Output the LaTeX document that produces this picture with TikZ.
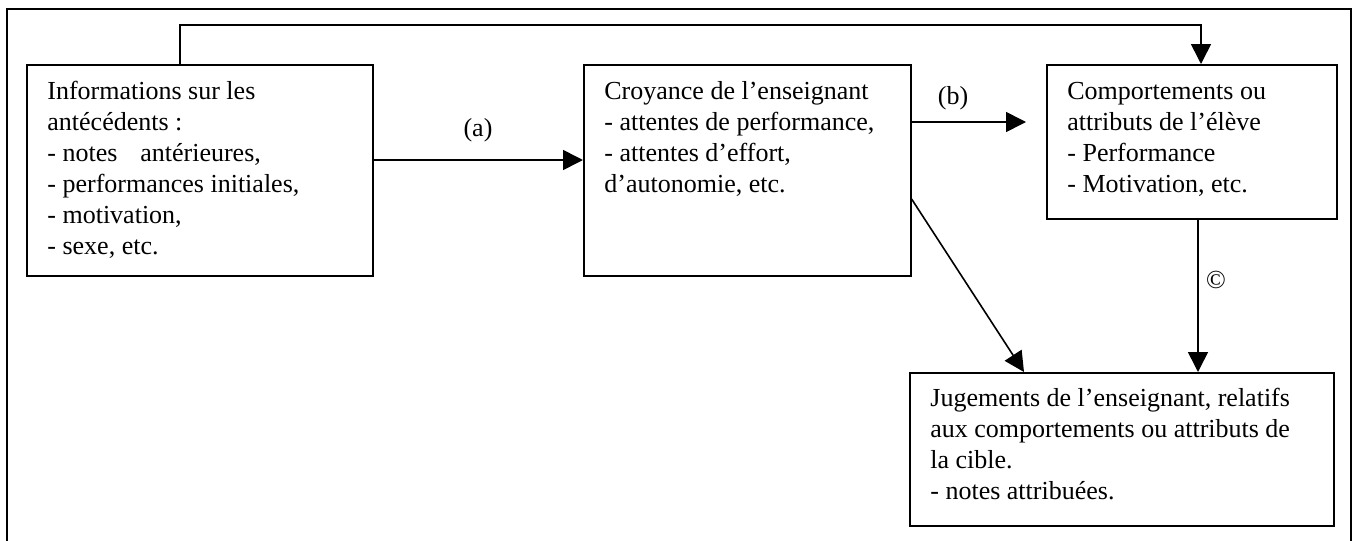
\documentclass[tikz,border=0pt]{standalone}
\usepackage{fontspec}
\setmainfont{Liberation Serif}
\usetikzlibrary{arrows.meta}
\newcommand{\boxlines}[1]{\begin{tabular}[t]{@{}l@{}}#1\end{tabular}}
\begin{document}
\begin{tikzpicture}[x=0.5pt,y=-0.5pt,
  box/.style={draw, line width=0.8pt, inner sep=0pt, anchor=north west},
  txt/.style={anchor=base west, inner sep=0pt, font=\fontsize{13}{15.5}\selectfont},
  lbl/.style={inner sep=0pt, font=\fontsize{13}{15.5}\selectfont},
  arr/.style={line width=0.8pt, -{Triangle[length=10pt,width=10pt]}},
  ln/.style={line width=0.8pt}]
\useasboundingbox (0,0) rectangle (1357,541);
% frame
\draw[line width=0.8pt] (7,541) -- (7,9) -- (1351,9) -- (1351,541);
% boxes
\node[box, minimum width=173pt, minimum height=105.5pt] (info) at (26,64) {};
\node[box, minimum width=163.5pt, minimum height=105.5pt] (croy) at (583,64) {};
\node[box, minimum width=145pt, minimum height=77pt] (comp) at (1046,64) {};
\node[box, minimum width=212pt, minimum height=76.5pt] (jug) at (909,372) {};
% texts
\node[txt] (infoT) at (47,99) {\boxlines{Informations sur les\\antécédents :\\- notes\hspace{0.88em}antérieures,\\- performances initiales,\\- motivation,\\- sexe, etc.}};
\node[txt] (croyT) at (604,99) {\boxlines{Croyance de l’enseignant\\- attentes de performance,\\- attentes d’effort,\\d’autonomie, etc.}};
\node[txt] (compT) at (1067,99) {\boxlines{Comportements ou\\attributs de l’élève\\- Performance\\- Motivation, etc.}};
\node[txt] (jugT) at (930,406) {\boxlines{Jugements de l’enseignant, relatifs\\aux comportements ou attributs de\\la cible.\\- notes attribuées.}};
% coordinates
\coordinate (t1) at (180,25);
\coordinate (t2) at (1201,25);
\coordinate (ya) at (0,160);
\coordinate (yb) at (0,122);
\coordinate (bend) at (1026,122);
\coordinate (yd) at (0,199);
\coordinate (xd) at (1024,0);
\coordinate (xc) at (1198,0);
% connectors
\draw[arr] (info.north -| t1) -- (t1) -- (t2) -- (t2 |- comp.north);
\draw[arr] (info.east |- ya) -- (croy.west |- ya);
\draw[arr] (croy.east |- yb) -- (bend);
\draw[arr] (croy.east |- yd) -- (jug.north -| xd);
\draw[arr] (comp.south -| xc) -- (jug.north -| xc);
% labels
\node[lbl] (la) at (478,130) {(a)};
\node[lbl] (lb) at (953,98) {(b)};
\node[lbl] (lc) at (1216,280) {©};
\end{tikzpicture}
\end{document}
